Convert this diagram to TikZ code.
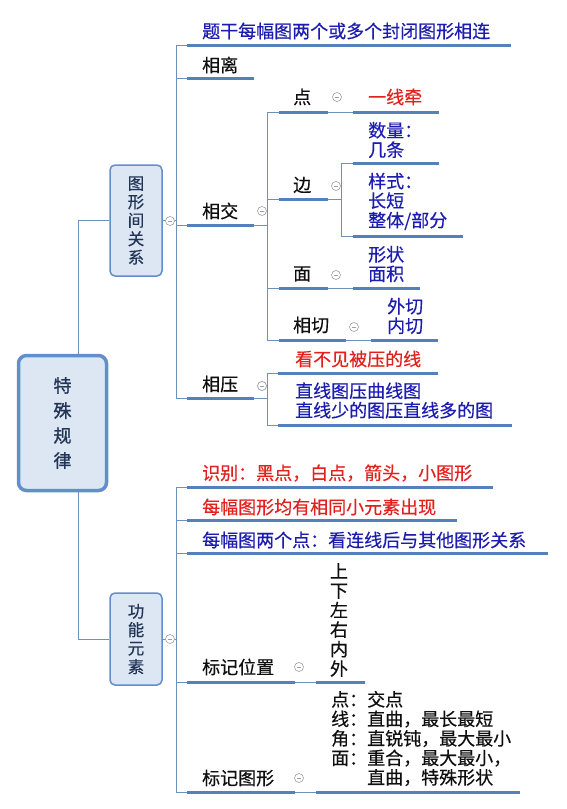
\documentclass[tikz,border=0pt]{standalone}
\usepackage{fontspec}
\setmainfont{Noto Sans CJK SC}[FakeBold=0.4]
\newfontfamily\rootfont{Noto Sans CJK SC}[FakeBold=1.2]
\usetikzlibrary{positioning}

\definecolor{barblue}{RGB}{84,128,188}
\definecolor{linkblue}{RGB}{110,145,188}
\definecolor{boxfill}{RGB}{221,231,243}
\definecolor{boxline}{RGB}{98,142,204}
\definecolor{boxtext}{RGB}{34,52,86}
\definecolor{inkblue}{RGB}{28,28,175}
\definecolor{inkred}{RGB}{226,32,30}
\definecolor{ink}{RGB}{15,15,15}

\tikzset{
  txt/.style={anchor=west, inner sep=0pt, align=left, text=ink,
    font=\fontsize{18}{19.5}\selectfont},
  blu/.style={txt, text=inkblue},
  rd/.style={txt, text=inkred},
  bar/.style={draw=barblue, line width=3pt},
  link/.style={draw=linkblue, line width=0.8pt},
  fold/.style={circle, draw=gray!75, fill=white, line width=0.6pt,
    inner sep=0pt, minimum size=9pt,
    path picture={\draw[gray!75,line width=0.6pt]
      ([xshift=-2.4pt]path picture bounding box.center) --
      ([xshift=2.4pt]path picture bounding box.center);}},
  topic/.style={draw=boxline, line width=1.5pt, fill=boxfill,
    rounded corners=5pt, minimum width=52pt, text=boxtext, align=center,
    font=\fontsize{16.5}{18.5}\selectfont},
}

\begin{document}
\begin{tikzpicture}[x=1pt,y=-1pt]
  \useasboundingbox (0,0) rectangle (566,809);

  % main topics
  \node[topic, minimum width=88pt, minimum height=135pt, line width=3.5pt,
    rounded corners=8pt, font=\rootfont\fontsize{18}{25}\selectfont]
    (root) at (62.5,423) {特\\殊\\规\\律};
  \node[topic, minimum height=111pt] (rel) at (136,220.5) {图\\形\\间\\关\\系};
  \node[topic, minimum height=92pt] (fun) at (136,639) {功\\能\\元\\素};
  \draw[link] (rel.west) -| ([xshift=15.5pt]root.north);
  \draw[link] (fun.west) -| ([xshift=15.5pt]root.south);

  % first spine
  \draw[link] (rel.east) -- (176,220.5);
  \draw[link] (176,45) -- (176,398);
  \foreach \y/\e in {45/511, 78/254, 225/254, 398/254} {
    \draw[link] (176,\y) -- (187,\y);
    \draw[bar] (187,\y) -- (\e,\y);
  }
  \node[fold] (relfold) at (170,221) {};
  \node[blu] (link0) at (202,31) {题干每幅图两个或多个封闭图形相连};
  \node[txt] (apart) at (202,65) {相离};
  \node[txt] (cross) at (202,211) {相交};
  \node[txt] (press) at (202,384) {相压};
  \node[fold] (crossfold) at (262,211) {};
  \node[fold] (pressfold) at (262,386) {};

  % crossing
  \draw[link] (254,225) -- (267,225);
  \draw[link] (267,112) -- (267,340);
  \foreach \y/\e in {112/328, 199/328, 288/328, 340/346} {
    \draw[link] (267,\y) -- (279,\y);
    \draw[bar] (279,\y) -- (\e,\y);
  }
  \node[txt] (dot) at (293,97) {点};
  \node[txt] (edge) at (293,185) {边};
  \node[txt] (face) at (293,274) {面};
  \node[txt] (touch) at (293,325) {相切};

  \draw[link] (328,112) -- (353,112);
  \draw[bar] (353,112) -- (439,112);
  \node[rd] (stroke) at (368,97) {一线牵};

  \draw[link] (328,199) -- (341,199);
  \draw[link] (341,163) -- (341,236);
  \draw[link] (341,163) -- (353,163);
  \draw[link] (341,236) -- (353,236);
  \draw[bar] (353,163) -- (439,163);
  \draw[bar] (353,236) -- (463,236);
  \node[blu] (count) at (368,140) {数量：\\几条};
  \node[blu] (kind) at (368,201.5) {样式：\\长短\\整体/部分};

  \draw[link] (328,288) -- (353,288);
  \draw[bar] (353,288) -- (420,288);
  \node[blu] (area) at (368,264) {形状\\面积};

  \draw[link] (346,340) -- (371,340);
  \draw[bar] (371,340) -- (438,340);
  \node[blu] (tangent) at (387,316) {外切\\内切};

  \node[fold] at (337,97) {};
  \node[fold] at (336,186) {};
  \node[fold] at (336,275) {};
  \node[fold] at (354,327) {};

  % pressing
  \draw[link] (254,398) -- (267,398);
  \draw[link] (267,373) -- (267,425);
  \draw[link] (267,373) -- (278,373);
  \draw[link] (267,425) -- (278,425);
  \draw[bar] (278,373) -- (438,373);
  \draw[bar] (278,425) -- (512,425);
  \node[rd] (hidden) at (295,359) {看不见被压的线};
  \node[blu] (lines) at (295,400.5) {直线图压曲线图\\直线少的图压直线多的图};
  \node[fold] at (262,386) {};

  % second spine
  \draw[link] (fun.east) -- (176,639);
  \draw[link] (176,487) -- (176,792);
  \foreach \y/\e in {487/493, 520/457, 553/548, 682/295, 792/295} {
    \draw[link] (176,\y) -- (187,\y);
    \draw[bar] (187,\y) -- (\e,\y);
  }
  \node[fold] (funfold) at (170,639) {};
  \node[rd] (spot) at (202,473) {识别：黑点，白点，箭头，小图形};
  \node[rd] (same) at (202,507) {每幅图形均有相同小元素出现};
  \node[blu] (pair) at (202,540) {每幅图两个点：看连线后与其他图形关系};
  \node[txt] (place) at (202,667) {标记位置};
  \node[txt] (shape) at (202,778) {标记图形};

  \draw[link] (295,682) -- (316,682);
  \draw[bar] (316,682) -- (365,682);
  \node[txt, anchor=center, align=center] (where) at (339,620)
    {上\\下\\左\\右\\内\\外};
  \node[fold] at (299,667) {};

  \draw[link] (295,792) -- (316,792);
  \draw[bar] (316,792) -- (520,792);
  \node[txt] (what) at (331,738.5)
    {点：交点\\线：直曲，最长最短\\角：直锐钝，最大最小\\面：重合，最大最小，\\\phantom{面：}直曲，特殊形状};
  \node[fold] at (299,778) {};
\end{tikzpicture}
\end{document}
